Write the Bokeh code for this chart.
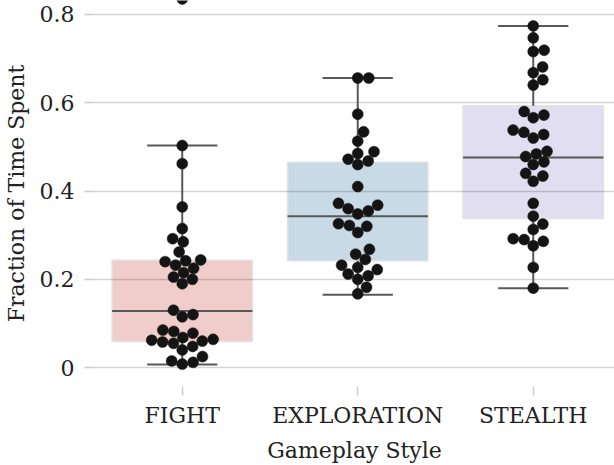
import numpy as np
from bokeh.plotting import figure
from bokeh.models import FixedTicker, ColumnDataSource
from bokeh.embed import file_html
from bokeh.resources import INLINE

# ---------------- data ----------------
categories = ["FIGHT", "EXPLORATION", "STEALTH"]

fight = [0.835, 0.503, 0.462, 0.364, 0.315, 0.292, 0.285, 0.262, 0.244, 0.242,
         0.240, 0.232, 0.225, 0.215, 0.205, 0.200, 0.190, 0.130, 0.120, 0.115,
         0.085, 0.082, 0.078, 0.068, 0.064, 0.062, 0.060, 0.058, 0.055, 0.048,
         0.040, 0.025, 0.015, 0.012, 0.008]
exploration = [0.656, 0.656, 0.574, 0.534, 0.513, 0.489, 0.485, 0.472, 0.468, 0.460,
               0.410, 0.372, 0.368, 0.360, 0.355, 0.348, 0.326, 0.322, 0.320, 0.306,
               0.268, 0.257, 0.245, 0.232, 0.227, 0.222, 0.212, 0.208, 0.200, 0.182,
               0.167]
stealth = [0.774, 0.747, 0.719, 0.716, 0.681, 0.668, 0.652, 0.640, 0.580, 0.572,
           0.566, 0.538, 0.533, 0.528, 0.520, 0.490, 0.484, 0.478, 0.466, 0.460,
           0.440, 0.434, 0.422, 0.372, 0.343, 0.325, 0.313, 0.292, 0.290, 0.286,
           0.276, 0.227, 0.180]

q1 = [0.059, 0.242, 0.338]
median = [0.128, 0.343, 0.476]
q3 = [0.243, 0.465, 0.593]
whisker_low = [0.007, 0.165, 0.180]
whisker_high = [0.503, 0.656, 0.774]

box_colors = ["#f0cdca", "#c8dae5", "#e0def0"]

y_ticks = [0, 0.2, 0.4, 0.6, 0.8]
y_tick_labels = ["0", "0.2", "0.4", "0.6", "0.8"]

# ---------------- layout ----------------
FONT = "DejaVu Serif"
W, H = 614, 465
BL, BR, BT, BB = 94, 0, 0, 77
x_range = (0.5, 3.463)
y_range = (-0.04282, 0.83155)

p = figure(width=W, height=H, x_range=x_range, y_range=y_range,
           output_backend="svg", toolbar_location=None,
           min_border_left=BL, min_border_right=BR, min_border_top=BT,
           min_border_bottom=BB)
p.outline_line_color = None
p.background_fill_color = "white"
p.border_fill_color = "white"

# pixel scales for swarm layout
fw = W - BL - BR
fh = H - BT - BB
px_x = fw / (x_range[1] - x_range[0])
px_y = fh / (y_range[1] - y_range[0])
D = 11.0  # dot diameter px


def swarm(vals):
    vals = np.asarray(vals, dtype=float)
    order = np.argsort(vals)
    placed = []
    offs = np.zeros(len(vals))
    for i in order:
        y = vals[i] * px_y
        cands = [0.0]
        for (cx, cy) in placed:
            dy = y - cy
            if abs(dy) < D:
                dx = np.sqrt(D ** 2 - dy ** 2)
                cands += [cx + dx, cx - dx]
        cands.sort(key=abs)
        chosen = cands[-1]
        for c in cands:
            if all((c - cx) ** 2 + (y - cy) ** 2 >= D ** 2 - 1e-6 for cx, cy in placed):
                chosen = c
                break
        placed.append((chosen, y))
        offs[i] = chosen / px_x
    return offs


xs = [1, 2, 3]
WHISKER = "#585858"

# boxes (drawn beneath the grid, like matplotlib patches)
p.quad(left=[x - 0.4 for x in xs], right=[x + 0.4 for x in xs], bottom=q1, top=q3,
       fill_color=box_colors, line_color="#e2e2e2", line_width=1.5, level="image")
# whiskers
p.segment(x0=xs, x1=xs, y0=q3, y1=whisker_high, line_color=WHISKER, line_width=2)
p.segment(x0=xs, x1=xs, y0=q1, y1=whisker_low, line_color=WHISKER, line_width=2)
# caps
p.segment(x0=[x - 0.2 for x in xs], x1=[x + 0.2 for x in xs], y0=whisker_high,
          y1=whisker_high, line_color=WHISKER, line_width=2)
p.segment(x0=[x - 0.2 for x in xs], x1=[x + 0.2 for x in xs], y0=whisker_low,
          y1=whisker_low, line_color=WHISKER, line_width=2)
# medians
p.segment(x0=[x - 0.4 for x in xs], x1=[x + 0.4 for x in xs], y0=median,
          y1=median, line_color=WHISKER, line_width=2)

# swarm points
for x, vals in zip(xs, [fight, exploration, stealth]):
    offs = swarm(vals)
    src = ColumnDataSource(dict(x=x + offs, y=vals))
    p.scatter("x", "y", source=src, size=D, fill_color="#141414",
              line_color="#141414", line_width=0.5)

# axes
p.xgrid.grid_line_color = None
p.ygrid.grid_line_color = "black"
p.ygrid.grid_line_alpha = 0.17
p.ygrid.grid_line_width = 1.5
p.ygrid.ticker = FixedTicker(ticks=y_ticks)

p.yaxis.ticker = FixedTicker(ticks=y_ticks)
p.yaxis.major_label_overrides = {t: l for t, l in zip(y_ticks, y_tick_labels)}
p.xaxis.ticker = FixedTicker(ticks=xs)
p.xaxis.major_label_overrides = {x: c for x, c in zip(xs, categories)}

for ax in (p.xaxis[0], p.yaxis[0]):
    ax.axis_line_color = None
    ax.minor_tick_line_color = None
    ax.major_tick_line_color = "#cccccc"
    ax.major_tick_line_width = 1.5
    ax.major_tick_in = 0
    ax.major_label_text_font = FONT
    ax.major_label_text_font_size = "22px"
    ax.major_label_text_color = "#222222"
    ax.axis_label_text_font = FONT
    ax.axis_label_text_font_size = "22px"
    ax.axis_label_text_font_style = "normal"
    ax.axis_label_text_color = "#222222"

p.yaxis.major_tick_out = 10
p.yaxis.major_label_standoff = 10
p.yaxis.axis_label = "Fraction of Time Spent"
p.yaxis.axis_label_standoff = 8

p.xaxis.major_tick_out = 9
p.xaxis.major_label_standoff = 7
p.xaxis.axis_label = "Gameplay Style"
p.xaxis.axis_label_standoff = 7

open("out.html", "w").write(file_html(p, INLINE))
